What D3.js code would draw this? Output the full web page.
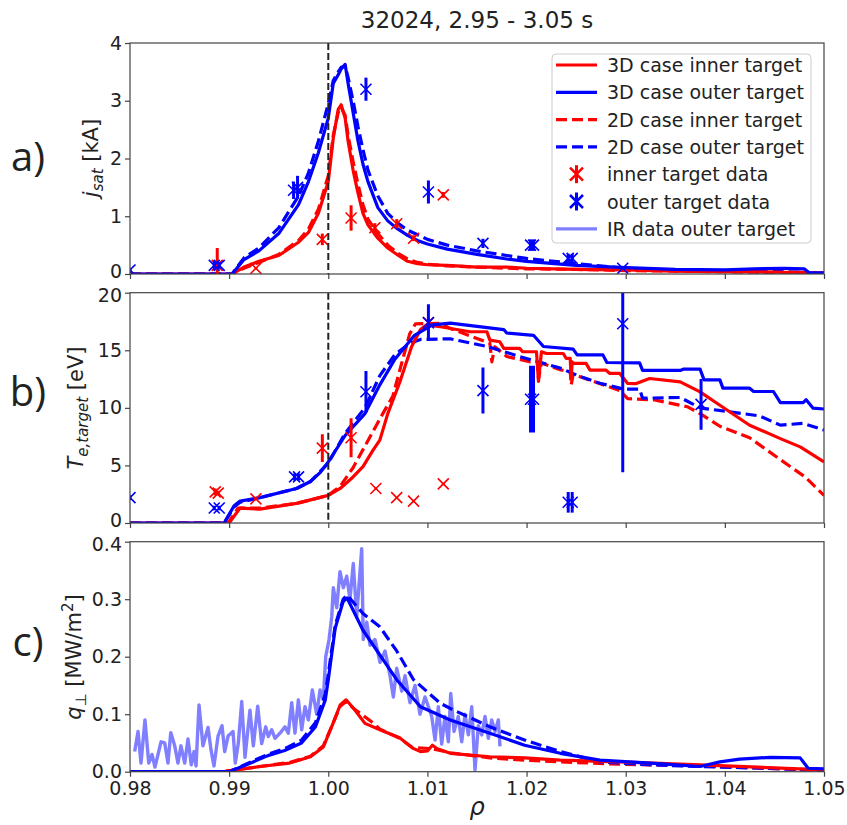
<!DOCTYPE html>
<html>
<head>
<meta charset="utf-8">
<script src="https://cdn.jsdelivr.net/npm/d3@7"></script>
<style>
  body { margin: 0; background: #fff; }
  svg text { font-family: "DejaVu Sans", sans-serif; fill: #222; }
</style>
</head>
<body>
<svg id="chart" width="847" height="825"></svg>
<script>
// --- data (rho, value) ---
var titleText = "32024, 2.95 - 3.05 s";
var xTicks = [0.98, 0.99, 1.0, 1.01, 1.02, 1.03, 1.04, 1.05];

// a) j_sat [kA]
var jsat3DInner = [[0.98,0],[0.9903,0],[0.9915,0.12],[0.993,0.22],[0.995,0.32],[0.997,0.55],[0.998,0.72],[0.999,1.05],[1.0,1.6],[1.0005,2.35],[1.001,2.85],[1.0013,2.93],[1.0017,2.7],[1.002,2.3],[1.0025,1.8],[1.003,1.4],[1.0035,1.05],[1.004,0.85],[1.005,0.62],[1.006,0.45],[1.007,0.33],[1.008,0.22],[1.009,0.18],[1.01,0.16],[1.012,0.15],[1.015,0.12],[1.018,0.12],[1.02,0.1],[1.025,0.08],[1.03,0.07],[1.035,0.05],[1.04,0.04],[1.043,0.04],[1.046,0.03],[1.048,0.03],[1.0485,0.02],[1.05,0.02]];
var jsat3DOuter = [[0.98,0],[0.9903,0],[0.9915,0.25],[0.993,0.4],[0.995,0.7],[0.997,1.2],[0.998,1.6],[0.999,2.1],[1.0,2.7],[1.0005,3.3],[1.001,3.45],[1.0013,3.55],[1.0017,3.63],[1.002,3.3],[1.0025,2.8],[1.003,2.3],[1.0035,1.9],[1.004,1.6],[1.005,1.15],[1.006,0.92],[1.007,0.78],[1.008,0.67],[1.009,0.58],[1.01,0.52],[1.012,0.43],[1.015,0.34],[1.018,0.26],[1.02,0.22],[1.025,0.15],[1.03,0.11],[1.035,0.08],[1.04,0.07],[1.043,0.09],[1.046,0.1],[1.048,0.09],[1.0485,0.02],[1.05,0.02]];
var jsat2DInner = [[0.98,0],[0.9903,0],[0.9915,0.1],[0.993,0.2],[0.995,0.34],[0.997,0.58],[0.998,0.78],[0.999,1.12],[1.0,1.7],[1.0005,2.4],[1.001,2.8],[1.0013,2.88],[1.0017,2.75],[1.002,2.4],[1.0025,1.95],[1.003,1.55],[1.0035,1.2],[1.004,0.95],[1.005,0.7],[1.006,0.5],[1.007,0.36],[1.008,0.26],[1.009,0.2],[1.01,0.17],[1.012,0.14],[1.015,0.12],[1.018,0.1],[1.02,0.09],[1.025,0.08],[1.03,0.06],[1.035,0.05],[1.04,0.04],[1.043,0.03],[1.046,0.02],[1.048,0.02],[1.0485,0.02],[1.05,0.01]];
var jsat2DOuter = [[0.98,0],[0.9903,0],[0.9915,0.28],[0.993,0.45],[0.995,0.8],[0.997,1.35],[0.998,1.75],[0.999,2.3],[1.0,2.95],[1.0005,3.35],[1.001,3.5],[1.0013,3.58],[1.0017,3.6],[1.002,3.4],[1.0025,3.0],[1.003,2.55],[1.0035,2.15],[1.004,1.8],[1.005,1.35],[1.006,1.05],[1.007,0.88],[1.008,0.76],[1.009,0.68],[1.01,0.6],[1.012,0.5],[1.015,0.4],[1.018,0.32],[1.02,0.27],[1.025,0.18],[1.03,0.1],[1.035,0.06],[1.04,0.05],[1.043,0.04],[1.046,0.04],[1.048,0.03],[1.0485,0.02],[1.05,0.01]];
// (rho, value, error)
var jsatInnerData = [[0.9888,0.15,0.3],[0.9927,0.1,0.02],[0.9994,0.6,0.1],[1.0023,0.97,0.22],[1.0047,0.8,0.08],[1.0069,0.87,0.08],[1.0086,0.62,0.05],[1.0116,1.37,0.05]];
var jsatOuterData = [[0.98,0.07,0.03],[0.9885,0.15,0.08],[0.989,0.15,0.06],[0.9965,1.45,0.15],[0.9969,1.5,0.2],[1.0038,3.2,0.2],[1.0101,1.42,0.2],[1.0156,0.53,0.08],[1.0204,0.5,0.1],[1.0207,0.5,0.1],[1.0242,0.27,0.08],[1.0246,0.27,0.08],[1.0297,0.1,0.02]];

// b) T_e,target [eV]
var te3DInner = [[0.98,0],[0.99,0],[0.9911,1.3],[0.9931,1.2],[0.9968,1.7],[1.0,2.4],[1.0012,3.0],[1.0025,4.0],[1.0035,4.9],[1.0045,6.3],[1.0052,7.2],[1.006,9.5],[1.0072,12.2],[1.0084,15.3],[1.0093,16.8],[1.0099,17.2],[1.0113,17.04],[1.0143,16.61],[1.016,16.61],[1.0163,15.88],[1.0173,15.74],[1.0177,15.16],[1.0193,15.16],[1.0196,14.87],[1.021,14.87],[1.0212,12.3],[1.0215,14.87],[1.022,14.72],[1.0237,14.72],[1.024,14.29],[1.0244,14.29],[1.0245,12.6],[1.0246,14.0],[1.0247,13.86],[1.026,13.86],[1.0264,13.28],[1.028,13.28],[1.0284,12.99],[1.0294,12.99],[1.0302,12.12],[1.031,12.1],[1.0324,12.55],[1.0355,12.26],[1.0375,11.39],[1.0395,10.23],[1.0425,8.49],[1.0456,7.33],[1.0476,6.61],[1.05,5.3]];
var te3DOuter = [[0.98,0],[0.9895,0],[0.9905,1.5],[0.9911,1.9],[0.9931,2.2],[0.9968,3.0],[0.9982,3.6],[0.9992,4.4],[1.0,5.3],[1.0017,7.6],[1.0037,9.5],[1.0052,12.0],[1.0067,14.2],[1.0087,16.3],[1.0105,17.2],[1.0123,17.36],[1.0177,16.8],[1.018,16.5],[1.0207,16.3],[1.0217,15.33],[1.0247,15.1],[1.0251,14.6],[1.0277,14.6],[1.0281,13.94],[1.0314,13.9],[1.0317,13.25],[1.0355,13.25],[1.0358,13.36],[1.0375,13.36],[1.0379,12.43],[1.0395,12.43],[1.0398,11.71],[1.0425,11.71],[1.0429,11.42],[1.0449,11.42],[1.0456,10.46],[1.0479,10.46],[1.0482,10.7],[1.0489,9.97],[1.05,9.9]];
var te2DInner = [[0.98,0],[0.9899,0],[0.9909,1.3],[0.9931,1.3],[0.9968,1.7],[1.0,2.4],[1.0012,3.2],[1.0025,4.8],[1.0039,7.0],[1.0055,9.5],[1.0065,11.0],[1.0076,14.5],[1.0082,16.4],[1.0088,17.3],[1.0113,17.33],[1.0123,16.9],[1.0163,15.6],[1.0165,14.0],[1.0168,15.3],[1.018,14.46],[1.0203,14.0],[1.0211,14.0],[1.0212,12.5],[1.0215,13.9],[1.0234,13.3],[1.0244,13.2],[1.0245,12.0],[1.0247,12.9],[1.0254,12.7],[1.0274,12.1],[1.0294,11.5],[1.0302,10.8],[1.0328,10.7],[1.0362,10.1],[1.0375,9.5],[1.0395,8.4],[1.0425,7.4],[1.0456,5.5],[1.0481,4.0],[1.05,2.4]];
var te2DOuter = [[0.98,0],[0.9895,0],[0.9905,1.4],[0.9911,1.8],[0.9931,2.2],[0.9968,3.0],[0.9982,3.6],[1.0,5.2],[1.0017,7.8],[1.0037,10.0],[1.0052,12.8],[1.0067,14.6],[1.0082,15.6],[1.0093,15.94],[1.0123,16.0],[1.016,15.33],[1.0193,14.46],[1.0234,13.45],[1.0254,12.72],[1.0274,12.14],[1.0294,11.71],[1.0298,11.62],[1.0314,11.62],[1.0317,10.84],[1.0355,10.9],[1.0375,10.0],[1.0435,9.3],[1.0456,8.5],[1.0479,8.65],[1.05,8.07]];
var teInnerData = [[0.9886,2.7,0.3],[0.9889,2.6,0.2],[0.9927,2.1,0.1],[0.9994,6.5,1.2],[1.0023,7.4,1.7],[1.0048,3.0,0.1],[1.0069,2.2,0.05],[1.0086,1.9,0.05],[1.0101,17.4,0.4],[1.0116,3.4,0.05]];
var teOuterData = [[0.98,2.2,0.2],[0.9885,1.3,0.2],[0.989,1.3,0.2],[0.9966,4.0,0.3],[0.997,4.0,0.3],[1.0038,11.4,1.8],[1.0101,17.4,1.6],[1.0156,11.5,2.0],[1.0204,10.75,2.9],[1.0207,10.75,2.9],[1.0242,1.8,0.9],[1.0246,1.8,0.9],[1.0297,17.3,12.9],[1.0376,10.3,2.2]];

// c) q_perp [MW/m2]
var q3DInner = [[0.98,0],[0.9895,0],[0.9931,0.009],[0.9961,0.015],[0.9982,0.026],[0.9995,0.043],[1.0005,0.085],[1.0012,0.116],[1.0018,0.125],[1.0027,0.107],[1.0037,0.084],[1.0052,0.073],[1.0072,0.059],[1.0085,0.041],[1.0093,0.035],[1.01,0.036],[1.0105,0.046],[1.011,0.04],[1.0123,0.032],[1.0163,0.026],[1.0198,0.024],[1.0234,0.02],[1.0294,0.017],[1.0375,0.012],[1.05,0.003]];
var q3DOuter = [[0.98,0],[0.99,0],[0.9913,0.009],[0.9923,0.016],[0.9939,0.028],[0.9956,0.037],[0.9973,0.05],[0.9987,0.078],[0.9997,0.125],[1.0,0.16],[1.0007,0.25],[1.0015,0.296],[1.0019,0.302],[1.0035,0.246],[1.0069,0.16],[1.0093,0.113],[1.0123,0.09],[1.0163,0.067],[1.0198,0.046],[1.0234,0.032],[1.0274,0.02],[1.0325,0.015],[1.0375,0.009],[1.0395,0.017],[1.0415,0.022],[1.0446,0.025],[1.0476,0.024],[1.0484,0.006],[1.05,0.005]];
var q2DInner = [[0.98,0],[0.9893,0],[0.9931,0.009],[0.9961,0.016],[0.9982,0.027],[0.9995,0.045],[1.0005,0.085],[1.0012,0.114],[1.0018,0.122],[1.0027,0.108],[1.0035,0.098],[1.0045,0.085],[1.0052,0.074],[1.0072,0.058],[1.0085,0.042],[1.0105,0.04],[1.0123,0.033],[1.0163,0.024],[1.0198,0.02],[1.0234,0.017],[1.0294,0.013],[1.0375,0.01],[1.05,0.002]];
var q2DOuter = [[0.98,0],[0.99,0],[0.9913,0.01],[0.9923,0.018],[0.9939,0.03],[0.9956,0.04],[0.9973,0.055],[0.9987,0.085],[0.9997,0.135],[1.0,0.17],[1.0007,0.255],[1.0015,0.3],[1.0019,0.307],[1.0035,0.275],[1.0052,0.252],[1.0069,0.21],[1.0086,0.16],[1.0113,0.119],[1.0123,0.11],[1.0163,0.078],[1.0198,0.055],[1.0234,0.035],[1.0274,0.017],[1.0325,0.012],[1.0375,0.009],[1.05,0.003]];
var irRho = [0.98047,0.98081,0.98111,0.98151,0.98189,0.98222,0.98252,0.98313,0.9835,0.98383,0.98411,0.98451,0.98484,0.98514,0.98552,0.98585,0.98618,0.98646,0.98666,0.98696,0.98736,0.98787,0.98817,0.98847,0.98888,0.98928,0.98955,0.98989,0.99039,0.99062,0.99092,0.99127,0.9916,0.9921,0.99244,0.99288,0.99328,0.99369,0.99395,0.99429,0.99463,0.99513,0.99563,0.99597,0.99631,0.99664,0.99698,0.99732,0.99765,0.99799,0.99839,0.99883,0.99917,0.9995,0.99974,1.00007,1.00035,1.00051,1.00085,1.00118,1.00152,1.00186,1.00219,1.00252,1.00287,1.00337,1.00353,1.00388,1.00421,1.00471,1.00522,1.00572,1.00623,1.00656,1.0069,1.00741,1.00774,1.00824,1.00875,1.00925,1.00976,1.01043,1.01077,1.0111,1.01144,1.01177,1.01211,1.01235,1.01268,1.01311,1.01346,1.01379,1.01413,1.01447,1.0148,1.01513,1.01548,1.01581,1.01614,1.01648,1.01682,1.01715,1.01732];
var irQ = [0.035,0.07,0.015,0.09,0.015,0.03,0.008,0.052,0.05,0.015,0.068,0.045,0.015,0.045,0.015,0.057,0.012,0.035,0.01,0.116,0.045,0.077,0.038,0.01,0.062,0.08,0.035,0.062,0.07,0.015,0.049,0.122,0.025,0.107,0.045,0.114,0.049,0.078,0.061,0.073,0.058,0.067,0.078,0.067,0.12,0.067,0.125,0.073,0.113,0.09,0.142,0.1,0.142,0.125,0.2,0.229,0.27,0.32,0.285,0.348,0.32,0.34,0.3,0.362,0.27,0.388,0.23,0.26,0.22,0.23,0.19,0.21,0.167,0.13,0.18,0.14,0.167,0.12,0.15,0.1,0.13,0.096,0.055,0.113,0.048,0.096,0.052,0.136,0.07,0.096,0.052,0.1,0.064,0.113,0.003,0.08,0.064,0.096,0.058,0.09,0.07,0.09,0.044];

var legendLabels = ["3D case inner target","3D case outer target","2D case inner target","2D case outer target","inner target data","outer target data","IR data outer target"];

// --- layout ---
var RED = "#ff0000", BLUE = "#0000ff", IR = "#7f7fff";
var svg = d3.select("#chart");
var x = d3.scaleLinear().domain([0.98, 1.05]).range([130, 824]);

var panels = [
  { top: 43, bottom: 274, max: 4, ticks: [0,1,2,3,4], fmt: d3.format("d"), label: "a)", ly: 155 },
  { top: 292.7, bottom: 523, max: 20, ticks: [0,5,10,15,20], fmt: d3.format("d"), label: "b)", ly: 390 },
  { top: 541.7, bottom: 771.7, max: 0.4, ticks: [0,0.1,0.2,0.3,0.4], fmt: d3.format(".1f"), label: "c)", ly: 640 }
];

var line = function (y) {
  return d3.line().x(function (d) { return x(d[0]); }).y(function (d) { return y(d[1]); });
};

function drawSeries(g, data, y, color, dashed, w) {
  g.append("path")
    .datum(data)
    .attr("fill", "none")
    .attr("stroke", color)
    .attr("stroke-width", w || 3.2)
    .attr("stroke-linejoin", "round")
    .attr("stroke-dasharray", dashed ? "11,5" : null)
    .attr("d", line(y));
}

function drawErrData(g, data, y, color) {
  var pts = g.selectAll(null).data(data).enter().append("g");
  pts.append("line")
    .attr("x1", function (d) { return x(d[0]); })
    .attr("x2", function (d) { return x(d[0]); })
    .attr("y1", function (d) { return y(d[1] - d[2]); })
    .attr("y2", function (d) { return y(d[1] + d[2]); })
    .attr("stroke", color).attr("stroke-width", 3);
  pts.append("path")
    .attr("d", function (d) {
      var cx = x(d[0]), cy = y(d[1]), s = 5.5;
      return "M" + (cx - s) + "," + (cy - s) + "L" + (cx + s) + "," + (cy + s) +
        "M" + (cx - s) + "," + (cy + s) + "L" + (cx + s) + "," + (cy - s);
    })
    .attr("stroke", color).attr("stroke-width", 1.6).attr("fill", "none");
}

panels.forEach(function (p, i) {
  p.y = d3.scaleLinear().domain([0, p.max]).range([p.bottom, p.top]);
  svg.append("clipPath").attr("id", "clip" + i)
    .append("rect").attr("x", 130).attr("y", p.top).attr("width", 694).attr("height", p.bottom - p.top);
  p.g = svg.append("g").attr("clip-path", "url(#clip" + i + ")");
});

// a)
var ya = panels[0].y, ga = panels[0].g;
drawSeries(ga, jsat2DInner, ya, RED, true);
drawSeries(ga, jsat2DOuter, ya, BLUE, true);
drawSeries(ga, jsat3DInner, ya, RED, false);
drawSeries(ga, jsat3DOuter, ya, BLUE, false);
drawErrData(ga, jsatInnerData, ya, RED);
drawErrData(ga, jsatOuterData, ya, BLUE);

// b)
var yb = panels[1].y, gb = panels[1].g;
drawSeries(gb, te2DInner, yb, RED, true);
drawSeries(gb, te2DOuter, yb, BLUE, true);
drawSeries(gb, te3DInner, yb, RED, false);
drawSeries(gb, te3DOuter, yb, BLUE, false);
drawErrData(gb, teInnerData, yb, RED);
drawErrData(gb, teOuterData, yb, BLUE);

// c)
var yc = panels[2].y, gc = panels[2].g;
var irData = irRho.map(function (r, k) { return [r, irQ[k]]; });
drawSeries(gc, irData, yc, IR, false, 3.4);
drawSeries(gc, q2DInner, yc, RED, true);
drawSeries(gc, q2DOuter, yc, BLUE, true);
drawSeries(gc, q3DInner, yc, RED, false);
drawSeries(gc, q3DOuter, yc, BLUE, false);

// separatrix line in a) and b)
[0, 1].forEach(function (i) {
  var p = panels[i];
  p.g.append("line")
    .attr("x1", x(1.0)).attr("x2", x(1.0))
    .attr("y1", p.top).attr("y2", p.bottom)
    .attr("stroke", "#222").attr("stroke-width", 2)
    .attr("stroke-dasharray", "7,3");
});

// axes and frames
panels.forEach(function (p, i) {
  var ay = svg.append("g").attr("transform", "translate(130,0)")
    .call(d3.axisLeft(p.y).tickValues(p.ticks).tickFormat(p.fmt).tickSize(5).tickPadding(3).tickSizeOuter(0));
  var ax = svg.append("g").attr("transform", "translate(0," + p.bottom + ")")
    .call(d3.axisBottom(x).tickValues(xTicks).tickSize(5).tickPadding(5).tickSizeOuter(0)
      .tickFormat(i === 2 ? d3.format(".2f") : function () { return ""; }));
  [ay, ax].forEach(function (a) {
    a.select(".domain").remove();
    a.selectAll(".tick line").attr("stroke", "#444").attr("stroke-width", 1.2);
    a.selectAll("text").style("font-size", "19px").attr("fill", "#222");
  });
  // neighbouring panels: keep the "0" and the top label of the next panel apart
  ay.selectAll(".tick text").attr("dy", function (d) {
    if (d === 0 && i < 2) return "0.2em";
    if (d === p.max && i > 0) return "0.45em";
    return "0.32em";
  });
  svg.append("rect")
    .attr("x", 130).attr("y", p.top).attr("width", 694).attr("height", p.bottom - p.top)
    .attr("fill", "none").attr("stroke", "#444").attr("stroke-width", 1.2);
  svg.append("text")
    .attr("x", 28).attr("y", p.ly)
    .attr("text-anchor", "middle").attr("dominant-baseline", "central")
    .style("font-size", "40px").style("font-family", "'Open Sans', sans-serif")
    .text(p.label);
});

// y labels
function yLabel(cx, cy) {
  return svg.append("text")
    .attr("transform", "translate(" + cx + "," + cy + ") rotate(-90)")
    .attr("text-anchor", "middle")
    .style("font-size", "21px");
}
var la = yLabel(98, 158);
la.append("tspan").style("font-style", "italic").text("j");
la.append("tspan").style("font-style", "italic").style("font-size", "15px").attr("dy", 5).text("sat");
la.append("tspan").attr("dy", -5).text(" [kA]");

var lb = yLabel(83, 408);
lb.append("tspan").style("font-style", "italic").text("T");
lb.append("tspan").style("font-style", "italic").style("font-size", "15px").attr("dy", 5).text("e,target");
lb.append("tspan").attr("dy", -5).text(" [eV]");

var lc = yLabel(81, 657);
lc.append("tspan").style("font-style", "italic").text("q");
lc.append("tspan").style("font-size", "15px").attr("dy", 5).text("\u22a5");
lc.append("tspan").attr("dy", -5).text(" [MW/m");
lc.append("tspan").style("font-size", "15px").attr("dy", -8).text("2");
lc.append("tspan").attr("dy", 8).text("]");

// x label
svg.append("text")
  .attr("x", 477).attr("y", 815).attr("text-anchor", "middle")
  .style("font-size", "24px").style("font-style", "italic")
  .text("\u03c1");

// title
svg.append("text")
  .attr("x", 477).attr("y", 28).attr("text-anchor", "middle")
  .style("font-size", "23px")
  .text(titleText);

// legend
var lg = svg.append("g");
lg.append("rect")
  .attr("x", 552).attr("y", 54).attr("width", 259).attr("height", 189).attr("rx", 4)
  .attr("fill", "#fff").attr("fill-opacity", 0.85).attr("stroke", "#ccc");
var legendStyle = [
  { c: RED, dash: null, kind: "line" },
  { c: BLUE, dash: null, kind: "line" },
  { c: RED, dash: "11,5", kind: "line" },
  { c: BLUE, dash: "11,5", kind: "line" },
  { c: RED, kind: "data" },
  { c: BLUE, kind: "data" },
  { c: IR, dash: null, kind: "line" }
];
legendLabels.forEach(function (t, k) {
  var yy = 65 + k * 27.3;
  var s = legendStyle[k];
  if (s.kind === "line") {
    lg.append("line").attr("x1", 556).attr("x2", 597).attr("y1", yy).attr("y2", yy)
      .attr("stroke", s.c).attr("stroke-width", 3.2).attr("stroke-dasharray", s.dash);
  } else {
    lg.append("line").attr("x1", 576.5).attr("x2", 576.5).attr("y1", yy - 9).attr("y2", yy + 9)
      .attr("stroke", s.c).attr("stroke-width", 3);
    lg.append("path")
      .attr("d", "M570,"+(yy-6.5)+"L583,"+(yy+6.5)+"M570,"+(yy+6.5)+"L583,"+(yy-6.5))
      .attr("stroke", s.c).attr("stroke-width", 2.5);
  }
  lg.append("text").attr("x", 607).attr("y", yy).attr("dominant-baseline", "central")
    .style("font-size", "19px").text(t);
});
</script>
</body>
</html>
